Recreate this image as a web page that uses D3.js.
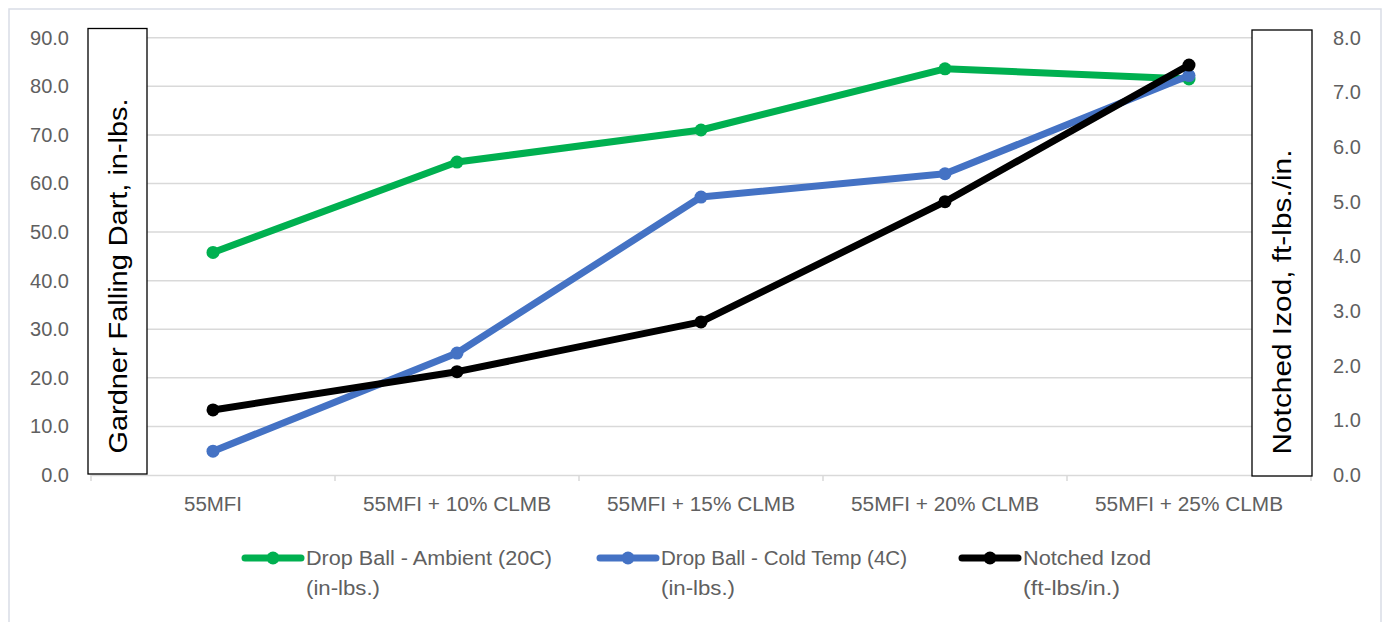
<!DOCTYPE html>
<html><head><meta charset="utf-8">
<script src="https://cdn.jsdelivr.net/npm/d3@7"></script>
<style>body{margin:0;background:#fff}svg{display:block}text{font-family:"Liberation Sans",Arial,sans-serif}</style>
</head><body><svg id="c" width="1389" height="622"></svg>
<script>
const categories = ["55MFI","55MFI + 10% CLMB","55MFI + 15% CLMB","55MFI + 20% CLMB","55MFI + 25% CLMB"];
const ambient = [45.8, 64.4, 71.0, 83.6, 81.5];
const cold = [4.9, 25.1, 57.2, 62.0, 82.2];
const izod = [1.19, 1.89, 2.80, 5.00, 7.50];
const leftTicks = [0,10,20,30,40,50,60,70,80,90];
const rightTicks = [0,1,2,3,4,5,6,7,8];
const series = [
  {name:["Drop Ball - Ambient (20C)","(in-lbs.)"], values:ambient, axis:"left", color:"#00b050"},
  {name:["Drop Ball - Cold Temp (4C)","(in-lbs.)"], values:cold, axis:"left", color:"#4472c4"},
  {name:["Notched Izod","(ft-lbs/in.)"], values:izod, axis:"right", color:"#000000"}
];

const svg = d3.select("#c");
const L = 91, R = 1311, T = 37.7, B = 475;
svg.append("rect").attr("x",9).attr("y",9).attr("width",1372).attr("height",620)
  .attr("fill","#fff").attr("stroke","#d9dde6").attr("stroke-width",1.5);

const x = d3.scaleBand().domain(categories).range([L,R]);
const yL = d3.scaleLinear().domain([0,90]).range([B,T]);
const yR = d3.scaleLinear().domain([0,8]).range([B,T]);
const grey = "#606060";

// gridlines
svg.append("g").selectAll("line").data(leftTicks.filter(d=>d>0)).join("line")
  .attr("x1",L).attr("x2",R).attr("y1",d=>yL(d)).attr("y2",d=>yL(d))
  .attr("stroke","#d9d9d9").attr("stroke-width",1.5);

// x axis
const xg = svg.append("g").attr("transform",`translate(0,${B})`)
  .call(d3.axisBottom(x).tickSize(0).tickPadding(22));
xg.select(".domain").attr("stroke","#d9d9d9").attr("stroke-width",1.5);
xg.selectAll("text").attr("font-size",19.5).attr("fill",grey).attr("font-family","Liberation Sans, Arial, sans-serif")
  .attr("textLength",d=>d.length>6?188:58).attr("lengthAdjust","spacingAndGlyphs");
const bounds = categories.map(c=>x(c)).concat([R]);
svg.append("g").selectAll("line").data(bounds).join("line")
  .attr("x1",d=>d).attr("x2",d=>d).attr("y1",B).attr("y2",B+6)
  .attr("stroke","#d9d9d9").attr("stroke-width",1.5);

// left axis
const lg = svg.append("g").attr("transform",`translate(${L},0)`)
  .call(d3.axisLeft(yL).tickValues(leftTicks).tickFormat(d3.format(".1f")).tickSize(0).tickPadding(22));
lg.select(".domain").remove();
lg.selectAll("text").attr("font-size",20).attr("fill",grey).attr("font-family","Liberation Sans, Arial, sans-serif");

// right axis
const rg = svg.append("g").attr("transform",`translate(${R},0)`)
  .call(d3.axisRight(yR).tickValues(rightTicks).tickFormat(d3.format(".1f")).tickSize(0).tickPadding(22));
rg.select(".domain").remove();
rg.selectAll("text").attr("font-size",20).attr("fill",grey).attr("font-family","Liberation Sans, Arial, sans-serif");

// axis title boxes
function titleBox(x0, w, y0, h, label, len, cy){
  svg.append("rect").attr("x",x0).attr("y",y0).attr("width",w).attr("height",h)
    .attr("fill","#fff").attr("stroke","#000").attr("stroke-width",1.3);
  svg.append("text").attr("transform",`translate(${x0+w/2+9},${cy}) rotate(-90)`)
    .attr("text-anchor","middle").attr("font-size",25).attr("fill","#000")
    .attr("textLength",len).attr("lengthAdjust","spacingAndGlyphs").text(label);
}
titleBox(88, 59, 28.5, 445.5, "Gardner Falling Dart, in-lbs.", 355, 276);
titleBox(1252, 60, 30, 446, "Notched Izod, ft-lbs./in.", 305, 302);

// lines
series.forEach(s=>{
  const y = s.axis==="left"?yL:yR;
  const line = d3.line().x((d,i)=>x(categories[i])+x.bandwidth()/2).y(d=>y(d));
  const g = svg.append("g");
  g.append("path").datum(s.values).attr("d",line).attr("fill","none")
    .attr("stroke",s.color).attr("stroke-width",7).attr("stroke-linejoin","round");
  g.selectAll("circle").data(s.values).join("circle")
    .attr("cx",(d,i)=>x(categories[i])+x.bandwidth()/2).attr("cy",d=>y(d)).attr("r",6.5)
    .attr("fill",s.color);
});

// legend
const legX = [245, 600, 962];
const legLen = [[246,74],[246,74],[128,97]];
series.forEach((s,i)=>{
  const g = svg.append("g").attr("transform",`translate(${legX[i]},558)`);
  g.append("line").attr("x1",0).attr("x2",56).attr("y1",0).attr("y2",0)
    .attr("stroke",s.color).attr("stroke-width",7).attr("stroke-linecap","round");
  g.append("circle").attr("cx",28).attr("cy",0).attr("r",6.5).attr("fill",s.color);
  g.append("text").attr("x",61).attr("y",7).attr("font-size",19.5).attr("fill",grey)
    .attr("textLength",legLen[i][0]).attr("lengthAdjust","spacingAndGlyphs").text(s.name[0]);
  g.append("text").attr("x",61).attr("y",37).attr("font-size",19.5).attr("fill",grey)
    .attr("textLength",legLen[i][1]).attr("lengthAdjust","spacingAndGlyphs").text(s.name[1]);
});
</script></body></html>
